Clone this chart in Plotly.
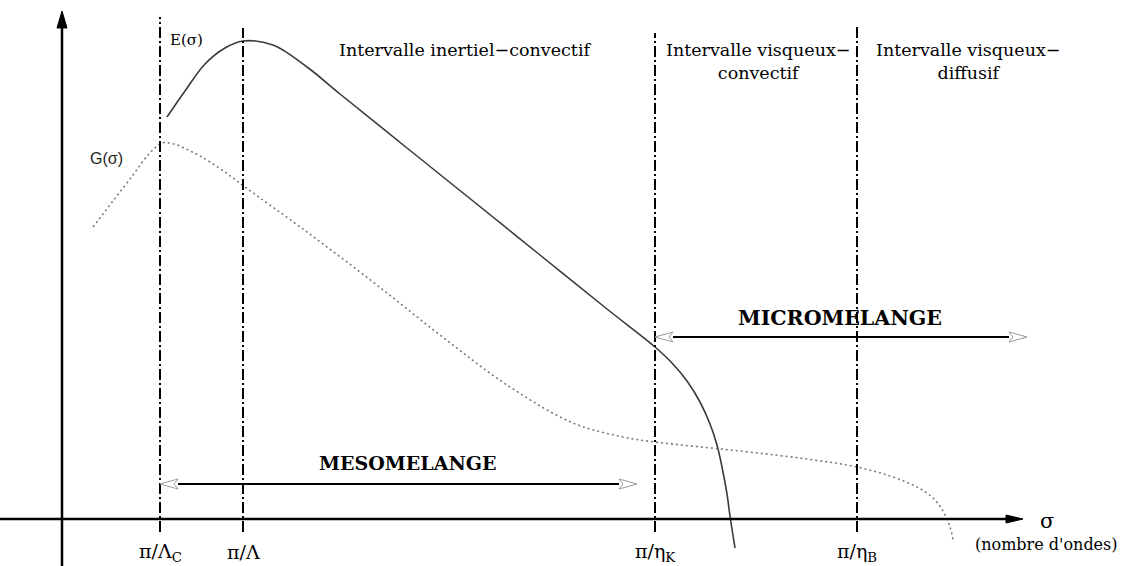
import plotly.graph_objects as go

# Wavenumber axis (sigma) and spectral amplitude, arbitrary units
E_sigma = [167, 185, 205, 225, 243, 273, 307, 340, 407, 473, 540, 607, 655, 672,
           687, 700, 710, 717, 722, 727, 730, 735]
E_amp = [402, 428, 455, 471, 478, 474, 452, 425, 371, 318, 264, 210, 172, 156,
         138, 117, 95, 74, 52, 25, 3, -29]

G_sigma = [93, 113, 133, 148, 162, 174, 186, 200, 222, 245, 307, 373, 440, 507,
           573, 623, 655, 740, 807, 857, 890, 915, 932, 943, 950, 953]
G_amp = [292, 318, 344, 364, 376, 375, 370, 363, 349, 332, 287, 237, 184, 134,
         96, 82, 77, 68, 60, 52, 43, 33, 22, 8, -8, -21]

# Characteristic wavenumbers
cut_sigma = [160, 243, 655, 857]
cut_top = [502, 491, 486, 492]
cut_labels = ["π/Λ<sub>C</sub>", "π/Λ", "π/η<sub>K</sub>", "π/η<sub>B</sub>"]

# Range labels along the top
range_labels = ["Intervalle inertiel\u2212convectif",
                "Intervalle visqueux\u2212<br>convectif",
                "Intervalle visqueux\u2212<br>diffusif"]
range_centers = [465, 758, 968]

# Mixing-scale spans
meso_span = (160, 637)
micro_span = (655, 1027)

X_RANGE = [0, 1126]
Y_RANGE = [-47, 519]
AXIS_X = 62
X_TIP = 1023
Y_TIP = 508

SERIF = "DejaVu Serif"

fig = go.Figure()

fig.add_trace(go.Scatter(
    x=E_sigma, y=E_amp, mode="lines",
    line=dict(color="#3a3a3a", width=1.6, shape="spline", smoothing=1.0),
    hoverinfo="skip", showlegend=False))

fig.add_trace(go.Scatter(
    x=G_sigma, y=G_amp, mode="lines",
    line=dict(color="#7a7a7a", width=1.6, shape="spline", smoothing=1.0,
              dash="2px,3px"),
    hoverinfo="skip", showlegend=False))

shapes = []

# Cut-off wavenumbers (dash-dot verticals)
for xs, top in zip(cut_sigma, cut_top):
    shapes.append(dict(type="line", xref="x", yref="y", x0=xs, x1=xs,
                       y0=-13, y1=top,
                       line=dict(color="black", width=2,
                                 dash="11px,3px,2px,3px")))

# Axes with filled arrowheads
shapes.append(dict(type="line", xref="x", yref="y", x0=0, x1=X_TIP - 14,
                   y0=0, y1=0, line=dict(color="black", width=2.5)))
shapes.append(dict(type="path", xref="x", yref="y",
                   path=f"M {X_TIP},0 L {X_TIP-17},4 L {X_TIP-17},-4 Z",
                   fillcolor="black", line=dict(color="black", width=1)))
shapes.append(dict(type="line", xref="x", yref="y", x0=AXIS_X, x1=AXIS_X,
                   y0=Y_RANGE[0], y1=Y_TIP - 14,
                   line=dict(color="black", width=2.5)))
shapes.append(dict(type="path", xref="x", yref="y",
                   path=f"M {AXIS_X},{Y_TIP} L {AXIS_X-5},{Y_TIP-17} "
                        f"L {AXIS_X+5},{Y_TIP-17} Z",
                   fillcolor="black", line=dict(color="black", width=1)))


def double_arrow(x0, x1, y):
    """Horizontal span with open grey arrowheads at both ends."""
    head = 18
    out = [dict(type="line", xref="x", yref="y", x0=x0 + head, x1=x1 - head,
                y0=y, y1=y, line=dict(color="black", width=2.2))]
    for tip, sgn in ((x0, 1), (x1, -1)):
        base = tip + sgn * head
        notch = tip + sgn * (head - 4)
        out.append(dict(type="path", xref="x", yref="y",
                        path=f"M {tip},{y} L {base},{y+5} L {notch},{y} "
                             f"L {base},{y-5} Z",
                        fillcolor="white",
                        line=dict(color="#9a9a9a", width=1)))
    return out


shapes += double_arrow(meso_span[0], meso_span[1], 35)
shapes += double_arrow(micro_span[0], micro_span[1], 182)

annotations = []
for xc, txt in zip(range_centers, range_labels):
    annotations.append(dict(x=xc, y=469 if "<br>" not in txt else 458,
                            xref="x", yref="y", text=txt, showarrow=False,
                            font=dict(family=SERIF, size=17.5, color="black"),
                            xanchor="center", yanchor="middle", align="center"))

annotations.append(dict(x=168, y=479, xref="x", yref="y", text="E(σ)",
                        showarrow=False, xanchor="left", yanchor="middle",
                        font=dict(family=SERIF, size=15, color="black")))
annotations.append(dict(x=106, y=361, xref="x", yref="y", text="G(σ)",
                        showarrow=False, xanchor="center", yanchor="middle",
                        font=dict(family="Liberation Sans", size=16,
                                  color="#222")))

annotations.append(dict(x=407, y=56, xref="x", yref="y", text="<b>MESOMELANGE</b>",
                        showarrow=False, xanchor="center", yanchor="middle",
                        font=dict(family=SERIF, size=19, color="black")))
annotations.append(dict(x=840, y=201, xref="x", yref="y",
                        text="<b>MICROMELANGE</b>",
                        showarrow=False, xanchor="center", yanchor="middle",
                        font=dict(family=SERIF, size=20.5, color="black")))

for xs, lab in zip(cut_sigma, cut_labels):
    annotations.append(dict(x=xs, y=-33, xref="x", yref="y", text=lab,
                            showarrow=False, xanchor="center", yanchor="middle",
                            font=dict(family=SERIF, size=19, color="black")))

annotations.append(dict(x=1047, y=-2, xref="x", yref="y", text="σ",
                        showarrow=False, xanchor="center", yanchor="middle",
                        font=dict(family=SERIF, size=21, color="black")))
annotations.append(dict(x=1046, y=-25, xref="x", yref="y",
                        text="(nombre d'ondes)",
                        showarrow=False, xanchor="center", yanchor="middle",
                        font=dict(family=SERIF, size=16, color="black")))

fig.update_layout(
    width=1126, height=566,
    margin=dict(l=0, r=0, t=0, b=0),
    paper_bgcolor="white", plot_bgcolor="white",
    xaxis=dict(range=X_RANGE, visible=False, fixedrange=True),
    yaxis=dict(range=Y_RANGE, visible=False, fixedrange=True),
    shapes=shapes, annotations=annotations,
    showlegend=False,
)

fig.write_html("out.html", config={"displayModeBar": False})
